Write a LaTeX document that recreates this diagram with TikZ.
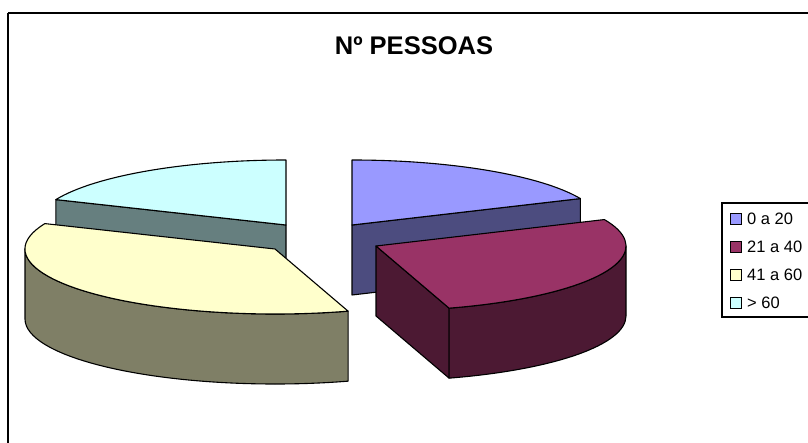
\documentclass[tikz,border=0pt]{standalone}
\usepackage{fontspec}
\setmainfont{Liberation Sans}
\usepackage{xcolor}
\usepackage{tikz}
\usetikzlibrary{calc}

\definecolor{jovemTop}{HTML}{9999FF}
\definecolor{jovemSide}{HTML}{4C4C7F}
\definecolor{adultoTop}{HTML}{993366}
\definecolor{adultoSide}{HTML}{4C1933}
\definecolor{maduroTop}{HTML}{FFFFCC}
\definecolor{maduroSide}{HTML}{7F7F66}
\definecolor{idosoTop}{HTML}{CCFFFF}
\definecolor{idosoSide}{HTML}{667F7F}

\begin{document}
\begin{tikzpicture}[x=1pt,y=1pt,
  fatia/.style={draw=black,line width=1.1pt,line join=round},
  marca/.style={draw=black,line width=0.9pt,minimum size=11pt,inner sep=0pt}]
\clip (0,0) rectangle (808,442);
\def\rx{250}
\def\ry{65}
\def\dep{70}

% Chart area frame
\draw[line width=2.4pt] (8,429) -- (830,429);
\draw[line width=2.4pt] (8,429) -- (8,-10);

\node[font=\bfseries\fontsize{25.5}{28}\selectfont,anchor=base] (titulo) at (414,387) {Nº PESSOAS};

% Pie centres
\coordinate (cIdoso) at (286,217);
\coordinate (cJovem) at (352,217);
\coordinate (cMaduro) at (275,193);
\coordinate (cAdulto) at (376,196);

% > 60 (back left)
\filldraw[fatia,fill=idosoSide] (cIdoso) -- ++(157:\rx pt and \ry pt) -- ++(0,-\dep) -- ($(cIdoso)+(0,-\dep)$) -- cycle;
\filldraw[fatia,fill=idosoTop] (cIdoso) -- ++(90:\rx pt and \ry pt)
  arc[start angle=90,end angle=157,x radius=\rx,y radius=\ry] -- cycle;

% 0 a 20 (back right)
\filldraw[fatia,fill=jovemSide] (cJovem) -- ++(24:\rx pt and \ry pt) -- ++(0,-\dep) -- ($(cJovem)+(0,-\dep)$) -- cycle;
\filldraw[fatia,fill=jovemTop] (cJovem) -- ++(24:\rx pt and \ry pt)
  arc[start angle=24,end angle=90,x radius=\rx,y radius=\ry] -- cycle;

% 41 a 60 (front left)
\filldraw[fatia,fill=maduroSide] ($(cMaduro)+(180:\rx pt and \ry pt)$)
  arc[start angle=180,end angle=287,x radius=\rx,y radius=\ry] -- ++(0,-\dep)
  arc[start angle=287,end angle=180,x radius=\rx,y radius=\ry] -- cycle;
\filldraw[fatia,fill=maduroTop] (cMaduro) -- ++(157:\rx pt and \ry pt)
  arc[start angle=157,end angle=287,x radius=\rx,y radius=\ry] -- cycle;

% 21 a 40 (front right)
\filldraw[fatia,fill=adultoSide] (cAdulto) -- ++(-73:\rx pt and \ry pt) -- ++(0,-\dep) -- ($(cAdulto)+(0,-\dep)$) -- cycle;
\filldraw[fatia,fill=adultoSide] ($(cAdulto)+(-73:\rx pt and \ry pt)$)
  arc[start angle=-73,end angle=0,x radius=\rx,y radius=\ry] -- ++(0,-\dep)
  arc[start angle=0,end angle=-73,x radius=\rx,y radius=\ry] -- cycle;
\filldraw[fatia,fill=adultoTop] (cAdulto) -- ++(-73:\rx pt and \ry pt)
  arc[start angle=-73,end angle=24,x radius=\rx,y radius=\ry] -- cycle;

% Legend
\draw[line width=1.4pt] (722,239) rectangle (830,125);
\foreach \i/\cor/\txt in {0/jovemTop/0 a 20,1/adultoTop/21 a 40,2/maduroTop/41 a 60,3/idosoTop/> 60} {
  \node[marca,fill=\cor] (m\i) at (736,223-28*\i) {};
  \node[anchor=west,inner sep=0pt,font=\fontsize{16.5}{18}\selectfont] (t\i) at ([xshift=5pt]m\i.east) {\txt};
}
\end{tikzpicture}
\end{document}
